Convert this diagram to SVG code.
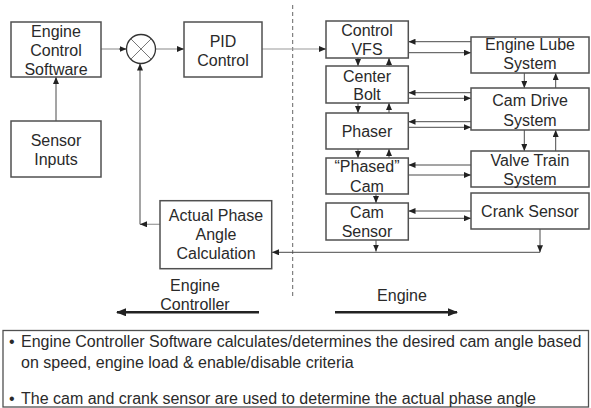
<svg xmlns="http://www.w3.org/2000/svg" width="591" height="408" viewBox="0 0 591 408">
<defs>
<style>
.box{fill:#fff;stroke:#505050;stroke-width:1.5}
.t{font-family:"Liberation Sans",Arial,sans-serif;font-size:16px;fill:#2a2a2a;text-anchor:middle}
.b{font-family:"Liberation Sans",Arial,sans-serif;font-size:16px;fill:#2a2a2a}
.c{fill:none;stroke:#4a4a4a;stroke-width:1;marker-end:url(#ah)}
.cl{fill:none;stroke:#9a9a9a;stroke-width:1.2}
.big{fill:none;stroke:#222;stroke-width:2.6;marker-end:url(#bh)}
</style>
<marker id="ah" markerUnits="userSpaceOnUse" markerWidth="7" markerHeight="6" refX="7" refY="3" orient="auto"><path d="M0,0L7,3L0,6z" fill="#222"/></marker>
<marker id="bh" markerUnits="userSpaceOnUse" markerWidth="10" markerHeight="8" refX="9" refY="4" orient="auto"><path d="M0,0L10,4L0,8z" fill="#222"/></marker>
</defs>
<rect width="591" height="408" fill="#fff"/>
<line x1="292.7" y1="5" x2="292.7" y2="298" stroke="#666" stroke-width="1" stroke-dasharray="4,3"/>

<g id="connectors">
<line class="c" x1="56" y1="121" x2="56" y2="77"/>
<line class="cl" x1="101" y1="49" x2="120" y2="49"/>
<line class="c" x1="119" y1="49" x2="126.5" y2="49"/>
<line class="cl" x1="155.5" y1="49" x2="178" y2="49"/>
<line class="c" x1="177" y1="49" x2="184" y2="49"/>
<line class="cl" x1="262" y1="49" x2="320" y2="49"/>
<line class="c" x1="319" y1="49" x2="326" y2="49"/>
<line class="cl" x1="160" y1="224.3" x2="146" y2="224.3"/>
<line class="c" x1="147" y1="224.3" x2="140" y2="224.3"/>
<line class="c" x1="140" y1="224.3" x2="140" y2="63.5"/>
<line class="c" x1="540" y1="252.3" x2="272" y2="252.3"/>
<line class="c" x1="540" y1="229" x2="540" y2="252.3"/>
<line class="c" x1="376" y1="240" x2="376" y2="251.5"/>
<line class="c" x1="471" y1="41.7" x2="408.5" y2="41.7"/>
<line class="c" x1="408.5" y1="52.7" x2="471" y2="52.7"/>
<line class="c" x1="358" y1="58" x2="358" y2="66"/>
<line class="c" x1="389" y1="66" x2="389" y2="58"/>
<line class="c" x1="471" y1="92.7" x2="408.5" y2="92.7"/>
<line class="c" x1="408.5" y1="98.3" x2="471" y2="98.3"/>
<line class="c" x1="358" y1="103" x2="358" y2="113"/>
<line class="c" x1="389" y1="113" x2="389" y2="103"/>
<line class="c" x1="471" y1="121.7" x2="408.5" y2="121.7"/>
<line class="c" x1="408.5" y1="127.3" x2="471" y2="127.3"/>
<line class="c" x1="524.3" y1="73" x2="524.3" y2="88"/>
<line class="c" x1="555.7" y1="88" x2="555.7" y2="73"/>
<line class="c" x1="524.3" y1="130" x2="524.3" y2="151"/>
<line class="c" x1="555.7" y1="151" x2="555.7" y2="130"/>
<line class="c" x1="358" y1="149" x2="358" y2="158"/>
<line class="c" x1="389" y1="158" x2="389" y2="149"/>
<line class="c" x1="471" y1="165" x2="408.5" y2="165"/>
<line class="c" x1="408.5" y1="175" x2="471" y2="175"/>
<line class="c" x1="376" y1="194" x2="376" y2="203"/>
<line class="c" x1="471" y1="211" x2="408.5" y2="211"/>
<line class="c" x1="408.5" y1="218.3" x2="471" y2="218.3"/>
<line class="big" x1="259" y1="312.3" x2="117" y2="312.3"/>
<line class="big" x1="335" y1="312.3" x2="457" y2="312.3"/>
</g>

<g id="ecs"><rect class="box" x="11" y="22" width="90" height="55"/>
<text class="t" x="56" y="36.5">Engine</text><text class="t" x="56" y="55.7">Control</text><text class="t" x="56" y="75">Software</text></g>
<g id="sensor-inputs"><rect class="box" x="11" y="121" width="90" height="56"/>
<text class="t" x="56" y="145.7">Sensor</text><text class="t" x="56" y="165">Inputs</text></g>
<g id="sum"><circle cx="141" cy="49" r="14.5" fill="#fff" stroke="#333" stroke-width="1.3"/>
<path d="M130.7,38.7L151.3,59.3M151.3,38.7L130.7,59.3" stroke="#777" stroke-width="1"/></g>
<g id="pid"><rect class="box" x="184" y="22" width="78" height="55"/>
<text class="t" x="223" y="46.7">PID</text><text class="t" x="223" y="65.7">Control</text></g>
<g id="apac"><rect class="box" x="160" y="200.7" width="111.7" height="68"/>
<text class="t" x="216" y="221">Actual Phase</text><text class="t" x="216" y="240">Angle</text><text class="t" x="216" y="259.3">Calculation</text></g>

<g id="vfs"><rect class="box" x="326" y="21" width="82.3" height="37"/>
<text class="t" x="367" y="36">Control</text><text class="t" x="367" y="55">VFS</text></g>
<g id="bolt"><rect class="box" x="326" y="66" width="82.3" height="37"/>
<text class="t" x="367" y="81.7">Center</text><text class="t" x="367" y="100">Bolt</text></g>
<g id="phaser"><rect class="box" x="326" y="113" width="82.3" height="36"/>
<text class="t" x="367" y="136.7">Phaser</text></g>
<g id="phased-cam"><rect class="box" x="326" y="158" width="82.3" height="36"/>
<text class="t" x="367" y="172.3">“Phased”</text><text class="t" x="367" y="191.5">Cam</text></g>
<g id="cam-sensor"><rect class="box" x="326" y="203" width="82.3" height="37"/>
<text class="t" x="367" y="218.3">Cam</text><text class="t" x="367" y="237.3">Sensor</text></g>

<g id="lube"><rect class="box" x="471" y="37" width="118" height="36"/>
<text class="t" x="530" y="50">Engine Lube</text><text class="t" x="530" y="69.3">System</text></g>
<g id="drive"><rect class="box" x="471" y="88" width="118" height="42"/>
<text class="t" x="530" y="106">Cam Drive</text><text class="t" x="530" y="125.7">System</text></g>
<g id="valve"><rect class="box" x="471" y="151" width="118" height="36"/>
<text class="t" x="530" y="166">Valve Train</text><text class="t" x="530" y="185">System</text></g>
<g id="crank"><rect class="box" x="471" y="193" width="118" height="36"/>
<text class="t" x="530" y="217.3">Crank Sensor</text></g>

<text class="t" x="195" y="291">Engine</text>
<text class="t" x="195" y="310">Controller</text>
<text class="t" x="402" y="301">Engine</text>

<g id="notes"><rect x="3" y="330.5" width="585.5" height="76.5" fill="#fff" stroke="#505050" stroke-width="1.3"/>
<text class="b" x="9" y="347">•</text><text class="b" x="21" y="347">Engine Controller Software calculates/determines the desired cam angle based</text>
<text class="b" x="21" y="368">on speed, engine load &amp; enable/disable criteria</text>
<text class="b" x="9" y="404">•</text><text class="b" x="21" y="404">The cam and crank sensor are used to determine the actual phase angle</text></g>
</svg>
